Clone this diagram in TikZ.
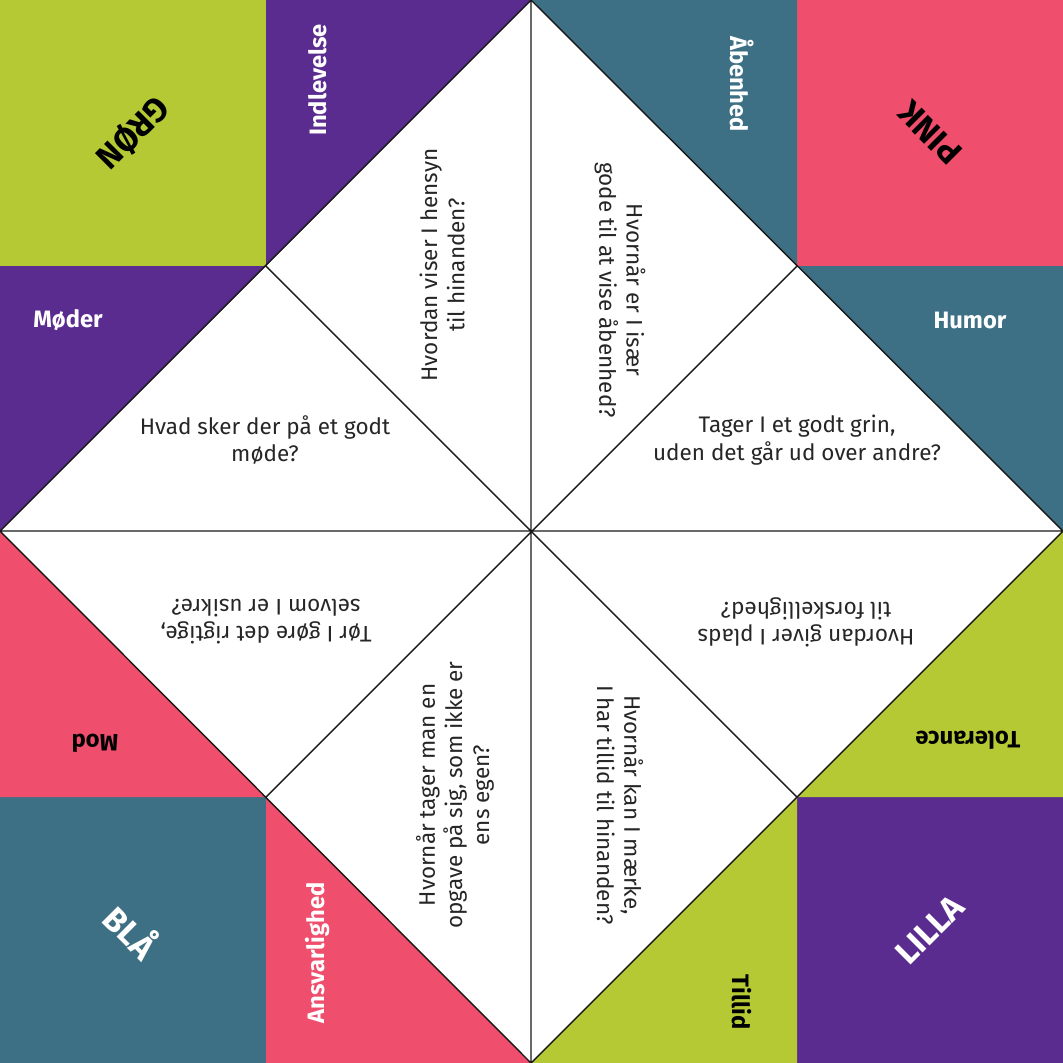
\documentclass[tikz,border=0pt]{standalone}
\usepackage{fontspec}
\setmainfont{Fira Sans}
\definecolor{cgreen}{HTML}{B5C935}
\definecolor{cpurple}{HTML}{5B2C8F}
\definecolor{cteal}{HTML}{3D7084}
\definecolor{cpink}{HTML}{EF4F6C}
\begin{document}
\begin{tikzpicture}[x=0.02cm,y=-0.02cm,
 lab/.style={font=\bfseries\fontsize{13.5}{15}\selectfont,text=white},
 big/.style={font=\bfseries\fontsize{19}{21}\selectfont},
 q/.style={font=\fontsize{12.8}{15.5}\selectfont,align=center,text=black!85}]
\useasboundingbox (0,0) rectangle (1063,1063);
\fill[white] (0,0) rectangle (1063,1063);
\fill[cgreen] (0,0) rectangle (266,266);
\fill[cpink] (797,0) rectangle (1063,266);
\fill[cteal] (0,797) rectangle (266,1063);
\fill[cpurple] (797,797) rectangle (1063,1063);
\fill[cpurple] (266,0) -- (531,0) -- (266,266) -- cycle;
\fill[cteal] (531,0) -- (797,0) -- (797,266) -- cycle;
\fill[cpurple] (0,266) -- (266,266) -- (0,531) -- cycle;
\fill[cteal] (797,266) -- (1063,266) -- (1063,531) -- cycle;
\fill[cpink] (0,531) -- (0,797) -- (266,797) -- cycle;
\fill[cgreen] (1063,531) -- (1063,797) -- (797,797) -- cycle;
\fill[cpink] (266,797) -- (266,1063) -- (531,1063) -- cycle;
\fill[cgreen] (797,797) -- (797,1063) -- (531,1063) -- cycle;
\draw[black!90,line width=0.8pt] (531,0) -- (1063,531) -- (531,1063) -- (0,531) -- cycle
 (531,0) -- (531,1063) (0,531) -- (1063,531)
 (266,266) -- (797,797) (797,266) -- (266,797);
\node[big,rotate=-135] (g) at (133,133) {GRØN};
\node[big,rotate=135] (p) at (930,133) {PINK};
\node[big,rotate=-45,text=white] (b) at (133,930) {BLÅ};
\node[big,rotate=45,text=white] (l) at (930,930) {LILLA};
\node[lab,rotate=90] (a1) at (318,80) {Indlevelse};
\node[lab,rotate=-90] (a2) at (742,84) {Åbenhed};
\node[lab] (a3) at (68,320) {Møder};
\node[lab] (a4) at (970,320) {Humor};
\node[lab,rotate=180,text=black] (a5) at (95,743) {Mod};
\node[lab,rotate=180,text=black] (a6) at (968,740) {Tolerance};
\node[lab,rotate=90] (a7) at (318,953) {Ansvarlighed};
\node[lab,rotate=-90,text=black] (a8) at (742,1002) {Tillid};
\node[q,rotate=90] (q1) at (442,265) {Hvordan viser I hensyn\\til hinanden?};
\node[q,rotate=-90] (q2) at (620,290) {Hvornår er I især\\gode til at vise åbenhed?};
\node[q] (q3) at (265,440) {Hvad sker der på et godt\\møde?};
\node[q] (q4) at (797,440) {Tager I et godt grin,\\uden det går ud over andre?};
\node[q,rotate=180] (q5) at (266,622) {Tør I gøre det rigtige,\\selvom I er usikre?};
\node[q,rotate=180] (q6) at (806,622) {Hvordan giver I plads\\til forskellighed?};
\node[q,rotate=90] (q7) at (455,795) {Hvornår tager man en\\opgave på sig, som ikke er\\ens egen?};
\node[q,rotate=-90] (q8) at (620,805) {Hvornår kan I mærke,\\I har tillid til hinanden?};
\end{tikzpicture}
\end{document}
